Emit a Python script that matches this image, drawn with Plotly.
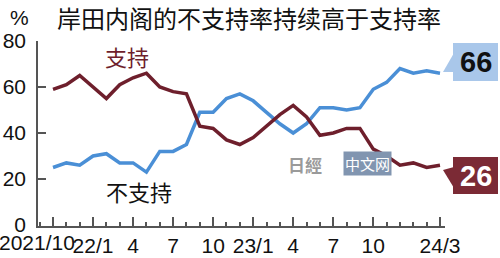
import plotly.graph_objects as go

months = list(range(30))  # 2021/10 .. 2024/3
support = [59, 61, 65, 60, 55, 61, 64, 66, 60, 58, 57, 43, 42, 37, 35, 38, 43, 48, 52, 47,
           39, 40, 42, 42, 33, 30, 26, 27, 25, 26]
oppose = [25, 27, 26, 30, 31, 27, 27, 23, 32, 32, 35, 49, 49, 55, 57, 54, 49, 44, 40, 44,
          51, 51, 50, 51, 59, 62, 68, 66, 67, 66]
tick_pos = [0, 3, 6, 9, 12, 15, 18, 21, 24, 29]
tick_text = ["", "22/1", "4", "7", "10", "23/1", "4", "7", "10", "24/3"]
first_tick_label = "2021/10"
y_ticks = [0, 20, 40, 60, 80]

BLUE = "#4a8fd6"
RED = "#6e1f2c"
BOXRED = "#7b2a35"
BOXBLUE = "#a9c7ea"
AX = "#555555"

W, H = 500, 258
L, R, T, B = 38, 55, 41, 32
PW, PH = W - L - R, H - T - B


def px(x):
    return (x - L) / PW


def py(y):
    return (H - B - y) / PH


fig = go.Figure()
fig.add_trace(go.Scatter(x=months, y=oppose, mode="lines",
                         line=dict(color=BLUE, width=3.5), hoverinfo="skip"))
fig.add_trace(go.Scatter(x=months, y=support, mode="lines",
                         line=dict(color=RED, width=3.5), hoverinfo="skip"))

shapes = [
    # 66 callout
    dict(type="rect", xref="paper", yref="paper", x0=px(453), x1=px(498), y0=py(81), y1=py(43),
         fillcolor=BOXBLUE, line=dict(width=0), layer="above"),
    dict(type="path", xref="paper", yref="paper",
         path=f"M {px(454)} {py(53)} L {px(443)} {py(72)} L {px(454)} {py(72)} Z",
         fillcolor=BOXBLUE, line=dict(width=0), layer="above"),
    # 26 callout
    dict(type="rect", xref="paper", yref="paper", x0=px(453), x1=px(498), y0=py(194), y1=py(157),
         fillcolor=BOXRED, line=dict(width=0), layer="above"),
    dict(type="path", xref="paper", yref="paper",
         path=f"M {px(454)} {py(167)} L {px(443)} {py(170)} L {px(454)} {py(188)} Z",
         fillcolor=BOXRED, line=dict(width=0), layer="above"),
]

FONT = "Noto Sans CJK SC"
annotations = [
    dict(text="岸田内阁的不支持率持续高于支持率", xref="paper", yref="paper", x=px(55), y=py(18),
         xanchor="left", yanchor="middle", showarrow=False,
         font=dict(family=FONT, size=24, color="#111111")),
    dict(text="%", xref="paper", yref="paper", x=px(19), y=py(17), xanchor="center", yanchor="middle",
         showarrow=False, font=dict(family="Liberation Sans", size=21, color="#111111")),
    dict(text="支持", xref="paper", yref="paper", x=px(127), y=py(56), xanchor="center", yanchor="middle",
         showarrow=False, font=dict(family=FONT, size=22, color=RED)),
    dict(text="不支持", xref="paper", yref="paper", x=px(139), y=py(191), xanchor="center", yanchor="middle",
         showarrow=False, font=dict(family=FONT, size=22, color="#111111")),
    dict(text=str(oppose[-1]), xref="paper", yref="paper", x=px(475.5), y=py(62), xanchor="center",
         yanchor="middle", showarrow=False,
         font=dict(family="Liberation Sans", size=29, color="#111111", weight="bold")),
    dict(text=str(support[-1]), xref="paper", yref="paper", x=px(475.5), y=py(175.5), xanchor="center",
         yanchor="middle", showarrow=False,
         font=dict(family="Liberation Sans", size=29, color="#ffffff", weight="bold")),
    dict(text=first_tick_label, xref="x", yref="paper", x=0, y=py(242), xanchor="right",
         yanchor="middle", xshift=24, showarrow=False,
         font=dict(family="Liberation Sans", size=21, color="#111111")),
    # watermark
    dict(text="日經", xref="paper", yref="paper", x=px(305), y=py(164), xanchor="center", yanchor="middle",
         showarrow=False, font=dict(family="Noto Sans CJK TC", size=17, color="#9a9a9a", weight="bold")),
    dict(text="中文网", xref="paper", yref="paper", x=px(367), y=py(163), xanchor="center", yanchor="middle",
         showarrow=False, bgcolor="#8195b0", borderpad=1,
         font=dict(family=FONT, size=15, color="#ffffff")),
]

fig.update_layout(
    width=W, height=H,
    margin=dict(l=L, r=R, t=T, b=B, pad=0, autoexpand=False),
    paper_bgcolor="white", plot_bgcolor="white",
    showlegend=False,
    shapes=shapes, annotations=annotations,
    xaxis=dict(range=[-1.125, 29.375], tickmode="array", tickvals=tick_pos, ticktext=tick_text,
               ticks="inside", ticklen=9, tickwidth=1.5, tickcolor=AX, automargin=False,
               showline=True, linecolor=AX, linewidth=1.5, showgrid=False, zeroline=False,
               ticklabelstandoff=0,
               minor=dict(tickmode="linear", tick0=0, dtick=1, ticks="inside", ticklen=4,
                          tickwidth=1.5, tickcolor=AX, showgrid=False),
               tickfont=dict(family="Liberation Sans", size=21, color="#111111"), fixedrange=True),
    yaxis=dict(range=[-0.43, 80], tickmode="array", tickvals=y_ticks, automargin=False,
               ticks="inside", ticklen=8, tickwidth=1.5, tickcolor=AX,
               showline=True, linecolor=AX, linewidth=1.5, showgrid=False, zeroline=False,
               ticklabelstandoff=6,
               tickfont=dict(family="Liberation Sans", size=21, color="#111111"), fixedrange=True),
)

fig.write_html("out.html", config=dict(displayModeBar=False))
